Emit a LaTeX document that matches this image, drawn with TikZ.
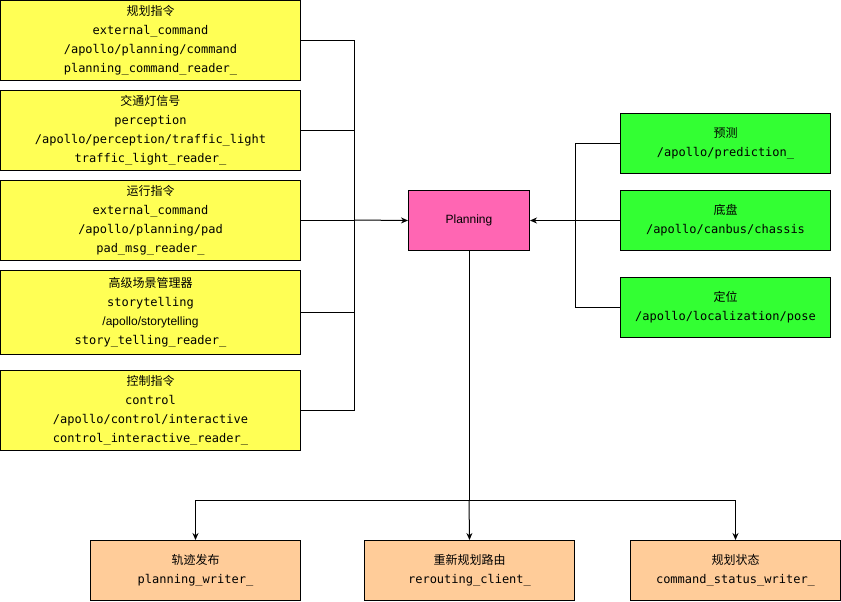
\documentclass[tikz,border=0pt]{standalone}
\usepackage{fontspec}
\setsansfont{Liberation Sans}
\setmonofont{DejaVu Sans Mono}
\newfontfamily\cjk{Noto Sans CJK SC}
\usetikzlibrary{positioning,arrows.meta}
\definecolor{TopicYellow}{HTML}{FFFF55}
\definecolor{InputGreen}{HTML}{33FF33}
\definecolor{CorePink}{HTML}{FF66B3}
\definecolor{OutOrange}{HTML}{FFCC99}

\begin{document}
\begin{tikzpicture}[
      x=1pt, y=-1pt,
      every node/.style={font=\fontsize{12}{19}\selectfont\ttfamily},
      box/.style={draw=black, line width=1pt, inner sep=0pt, align=center, anchor=north west},
      reader/.style={box, fill=TopicYellow, minimum width=300pt, minimum height=80pt},
      source/.style={box, fill=InputGreen, minimum width=210pt, minimum height=60pt},
      writer/.style={box, fill=OutOrange, minimum width=210pt, minimum height=60pt},
      line/.style={draw=black, line width=1pt},
      arrow/.style={line, -{Stealth[length=7pt, width=6pt]}}
    ]
    \useasboundingbox (0,0) rectangle (841,602);

    % readers on the left
    \node[reader] (cmd) at (0,0) {{\cjk 规划指令}\\external\_command\\/apollo/planning/command\\planning\_command\_reader\_};
    \node[reader] (light) at (0,90) {{\cjk 交通灯信号}\\perception\\/apollo/perception/traffic\_light\\traffic\_light\_reader\_};
    \node[reader] (pad) at (0,180) {{\cjk 运行指令}\\external\_command\\/apollo/planning/pad\\pad\_msg\_reader\_};
    \node[reader, minimum height=84pt] (story) at (0,270) {{\cjk 高级场景管理器}\\storytelling\\{\sffamily /apollo/storytelling}\\story\_telling\_reader\_};
    \node[reader] (ctrl) at (0,370) {{\cjk 控制指令}\\control\\/apollo/control/interactive\\control\_interactive\_reader\_};

    % core
    \node[box, fill=CorePink, minimum width=121pt, minimum height=60pt, font=\fontsize{12}{14}\selectfont\sffamily] (plan) at (408,190) {Planning};

    % sources on the right
    \node[source] (pred) at (620,113) {{\cjk 预测}\\/apollo/prediction\_};
    \node[source] (chassis) at (620,190) {{\cjk 底盘}\\/apollo/canbus/chassis};
    \node[source] (loc) at (620,277) {{\cjk 定位}\\/apollo/localization/pose};

    % writers at the bottom
    \node[writer] (traj) at (90,540) {{\cjk 轨迹发布}\\planning\_writer\_};
    \node[writer] (reroute) at (364,540) {{\cjk 重新规划路由}\\rerouting\_client\_};
    \node[writer] (status) at (630,540) {{\cjk 规划状态}\\command\_status\_writer\_};

    \coordinate (busL) at (354,220);
    \coordinate (busR) at (575,220);
    \coordinate (busB) at (plan.south |- 0,500);

    % left bus
    \foreach \n in {cmd,light,pad,story,ctrl}
      \draw[line] (\n.east) -- (\n.east -| busL);
    \draw[line] (cmd.east -| busL) -- (ctrl.east -| busL);
    \draw[arrow] (busL) -- (plan.west);

    % right bus
    \foreach \n in {pred,loc}
      \draw[line] (\n.west) -- (\n.west -| busR);
    \draw[line] (pred.west -| busR) -- (loc.west -| busR);
    \draw[arrow] (chassis.west) -- (plan.east);

    % bottom bus
    \draw[line] (plan.south) -- (busB);
    \draw[arrow] (busB) -| (traj.north);
    \draw[arrow] (busB) -| (status.north);
    \draw[arrow] (busB) -- (reroute.north);
\end{tikzpicture}
\end{document}
